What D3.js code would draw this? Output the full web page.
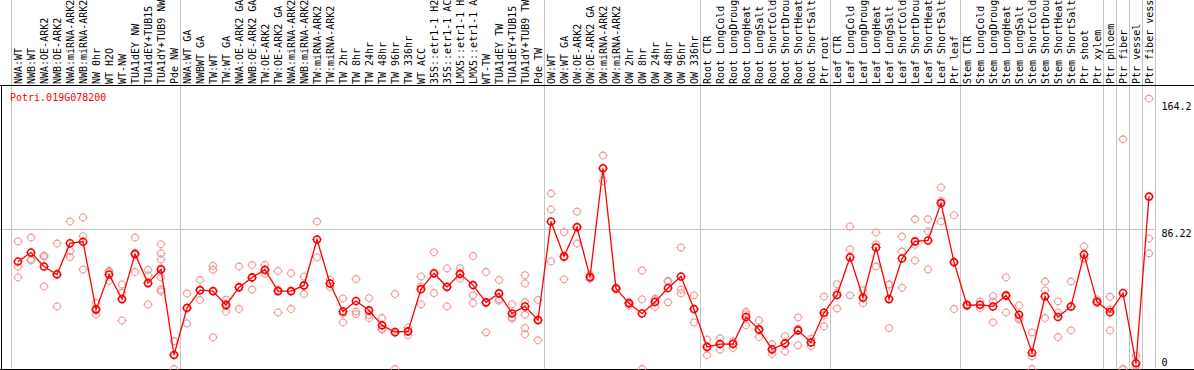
<!DOCTYPE html>
<html>
<head>
<meta charset="utf-8">
<script src="https://cdn.jsdelivr.net/npm/d3@7"></script>
<style>
  html, body { margin: 0; padding: 0; background: #fff; }
  svg { display: block; }
  text { font-family: "DejaVu Sans Mono", monospace; font-size: 10px; }
</style>
</head>
<body>
<div id="chart"></div>
<script>
// sample labels (shown cut at 14 chars as in the source plot)
const labels = [
  'NWA:WT', 'NWB:WT', 'NWA:OE-ARK2', 'NWB:OE-ARK2', 'NWA:miRNA-ARK2', 'NWB:miRNA-ARK2',
  'NW 0hr', 'WT H2O', 'WT-NW', 'TUA1dEY NW', 'TUA1dEY+TUB15', 'TUA1dY+TUB9 NW', 'Pde NW',
  'NWA:WT GA', 'NWBWT GA', 'TW:WT', 'TW:WT GA', 'NWA:OE-ARK2 GA', 'NWB:OE-ARK2 GA',
  'TW:OE-ARK2', 'TW:OE-ARK2 GA', 'NWA:miRNA-ARK2', 'NWB:miRNA-ARK2', 'TW:miRNA-ARK2',
  'TW:miRNA-ARK2', 'TW 2hr', 'TW 8hr', 'TW 24hr', 'TW 48hr', 'TW 96hr', 'TW 336hr',
  'WT ACC', '35S::etr1-1 H2', '35S::etr1-1 AC', 'LMX5::etr1-1 H', 'LMX5::etr1-1 A',
  'WT-TW', 'TUA1dEY TW', 'TUA1dEY+TUB15', 'TUA1dY+TUB9 TW', 'Pde TW',
  'OW:WT', 'OW:WT GA', 'OW:OE-ARK2', 'OW:OE-ARK2 GA', 'OW:miRNA-ARK2', 'OW:miRNA-ARK2',
  'OW 2hr', 'OW 8hr', 'OW 24hr', 'OW 48hr', 'OW 96hr', 'OW 336hr',
  'Root CTR', 'Root LongCold', 'Root LongDroug', 'Root LongHeat', 'Root LongSalt',
  'Root ShortCold', 'Root ShortDrou', 'Root ShortHeat', 'Root ShortSalt', 'Ptr root',
  'Leaf CTR', 'Leaf LongCold', 'Leaf LongDroug', 'Leaf LongHeat', 'Leaf LongSalt',
  'Leaf ShortCold', 'Leaf ShortDrou', 'Leaf ShortHeat', 'Leaf ShortSalt', 'Ptr leaf',
  'Stem CTR', 'Stem LongCold', 'Stem LongDroug', 'Stem LongHeat', 'Stem LongSalt',
  'Stem ShortCold', 'Stem ShortDrou', 'Stem ShortHeat', 'Stem ShortSalt', 'Ptr shoot',
  'Ptr xylem', 'Ptr phloem', 'Ptr fiber', 'Ptr vessel', 'Ptr fiber vess'
];

// index of the last sample in each block (a grey separator follows it)
const groupEnds = [12, 40, 52, 62, 72, 83, 84, 85, 86, 87];

// mean expression per sample
const means = [
  66.0, 71.5, 62.9, 58.0, 77.2, 78.1, 36.6, 58.0, 42.9, 70.5,
  52.7, 61.1, 8.6, 37.4, 48.4, 47.8, 39.2, 50.1, 56.2, 60.9,
  47.8, 47.8, 51.3, 79.5, 52.5, 35.3, 41.7, 36.0, 26.8, 22.7,
  23.1, 49.0, 58.8, 50.3, 58.4, 51.5, 40.9, 46.4, 34.1, 38.4,
  30.0, 90.5, 69.1, 87.0, 56.4, 123.2, 49.4, 40.3, 34.1, 41.1,
  49.7, 56.8, 36.8, 13.5, 15.3, 15.3, 31.9, 24.3, 12.1, 15.7,
  23.7, 16.3, 34.5, 45.4, 68.5, 43.9, 74.6, 42.9, 67.8, 78.3,
  78.9, 101.8, 65.6, 39.2, 39.4, 38.4, 45.2, 33.3, 10.0, 44.5,
  31.9, 38.4, 70.3, 41.3, 34.9, 46.6, 3.5, 105.8
];

// replicate values per sample
const replicates = [
  [78.3, 62.7, 56.2], [80.7, 67.2, 66.6], [69.7, 68.9, 50.7], [77.0, 58.6, 38.4],
  [90.5, 72.5, 68.7], [93.0, 81.5, 61.1], [40.5, 35.8, 33.3], [60.3, 59.5, 54.1],
  [51.9, 46.8, 29.8], [80.7, 71.3, 59.5], [60.9, 57.4, 39.6],
  [76.6, 70.9, 67.2, 61.9, 56.2, 48.8, 47.6],
  [17.0, 8.8, 0], [46.4, 37.8, 28.0], [54.6, 48.4, 42.3], [63.3, 60.9, 19.4],
  [42.5, 40.0, 35.1], [62.9, 50.5, 36.8], [63.8, 56.0, 48.8], [64.0, 60.3, 58.4],
  [60.1, 48.6, 34.7], [58.8, 47.8, 36.8], [56.8, 51.1, 46.0], [90.5, 79.5, 68.5],
  [54.8, 52.5, 50.3], [43.3, 34.1, 28.6], [55.2, 35.3, 33.7], [43.5, 33.1, 31.3],
  [31.3, 24.7, 24.1], [46.0, 22.1, 0], [25.5, 23.1, 20.6], [56.8, 50.7, 39.6],
  [71.7, 58.2, 46.6], [61.7, 50.7, 38.4], [61.9, 58.0, 55.4], [69.3, 45.2, 40.5],
  [59.5, 40.5, 22.5], [54.6, 42.7, 41.9], [39.8, 31.7, 30.9],
  [57.6, 52.5, 41.1, 33.3, 25.1, 21.3],
  [42.3, 30.2, 17.6], [107.7, 97.9, 66.0], [84.0, 68.2, 55.0], [96.6, 87.5, 77.0],
  [57.8, 56.2, 55.2], [131.0, 123.2, 115.4], [50.1, 49.4, 48.8], [41.1, 40.7, 39.0],
  [60.5, 42.7, 0], [43.1, 42.1, 38.0], [54.1, 53.7, 40.9], [74.6, 48.8, 46.4],
  [45.2, 36.6, 28.6], [18.0, 14.1, 8.4], [18.8, 15.3, 11.9], [17.0, 15.9, 12.9],
  [35.1, 33.7, 26.8], [29.8, 23.5, 19.6], [15.3, 11.6, 9.2], [20.2, 16.1, 10.8],
  [31.7, 24.7, 14.5], [18.6, 16.3, 14.1], [44.5, 32.9, 26.2], [52.1, 46.8, 37.2],
  [87.5, 73.4, 45.2], [48.4, 43.1, 40.3], [83.8, 76.6, 62.9], [51.9, 51.7, 25.1],
  [81.3, 72.1, 49.9], [91.9, 76.2, 66.6], [91.9, 84.4, 61.1], [111.4, 103.2, 90.5],
  [94.4, 65.6, 36.8], [39.8, 39.2, 38.6], [41.5, 39.4, 37.4], [44.7, 41.5, 28.6],
  [56.2, 44.5, 34.7], [39.0, 31.3, 30.2], [22.5, 7.8, 0], [53.7, 48.2, 31.3],
  [41.5, 34.7, 19.6], [53.7, 38.0, 23.7], [75.2, 68.0, 67.6], [42.7, 40.7, 40.5],
  [44.3, 36.6, 23.7], [141.0, 0, 0], [8.2, 2.2, 0], [165.9, 80.1, 70.9]
];

const yTicks = [0, 86.22, 164.2];
const gridValue = 86.22;
const geneName = 'Potri.019G078200';

const width = 1194, height = 370;
const plotTop = 85.5, plotBottom = 369.5;

const svg = d3.select('#chart').append('svg')
  .attr('width', width)
  .attr('height', height);

const x = d3.scaleBand()
  .domain(d3.range(labels.length))
  .range([11.5, 11.5 + 13 * labels.length]);
const cx = i => x(i) + x.bandwidth() / 2;
const xEnd = x.range()[1];

const y = d3.scaleLinear()
  .domain([0, gridValue])
  .range([369, 228.5]);

// ===== separators / grid =====
const seps = [x.range()[0]].concat(groupEnds.map(i => x(i) + x.bandwidth()));
svg.selectAll('.sep')
  .data(seps)
  .join('line')
  .attr('class', 'sep')
  .attr('x1', d => d).attr('x2', d => d)
  .attr('y1', 0).attr('y2', plotBottom)
  .attr('stroke', '#c4c4c4')
  .attr('stroke-width', 1);

svg.append('line')
  .attr('x1', 0).attr('x2', xEnd)
  .attr('y1', Math.round(y(gridValue)) + 0.5).attr('y2', Math.round(y(gridValue)) + 0.5)
  .attr('stroke', '#c4c4c4');

// frame
svg.append('line')
  .attr('x1', 0).attr('x2', width)
  .attr('y1', plotTop).attr('y2', plotTop)
  .attr('stroke', '#000');
svg.append('line')
  .attr('x1', 0).attr('x2', width)
  .attr('y1', plotBottom).attr('y2', plotBottom)
  .attr('stroke', '#000');
svg.append('line')
  .attr('x1', 1.5).attr('x2', 1.5)
  .attr('y1', plotTop).attr('y2', plotBottom)
  .attr('stroke', '#000');

// ===== sample labels =====
svg.selectAll('.lab')
  .data(labels)
  .join('text')
  .attr('class', 'lab')
  .attr('transform', (d, i) => `translate(${cx(i)},84) rotate(-90)`)
  .attr('dy', '0.36em')
  .attr('text-anchor', 'start')
  .attr('fill', '#000')
  .text(d => d);

// ===== y labels on the right =====
svg.selectAll('.ylab')
  .data(yTicks)
  .join('text')
  .attr('class', 'ylab')
  .attr('x', xEnd + 6)
  .attr('y', d => Math.min(y(d) + 8.5, 366))
  .attr('fill', '#000')
  .text(d => d);

// gene name
svg.append('text')
  .attr('x', 10)
  .attr('y', 100.5)
  .attr('fill', '#ff0000')
  .text(geneName);

// ===== markers =====
const marker = 'M0,-4.6V-3.6M0,3.6V4.6M-4.6,0H-3.6M3.6,0H4.6';

const reps = replicates.flatMap((arr, i) => arr.map(v => ({ i, v })));
const repG = svg.selectAll('.rep')
  .data(reps)
  .join('g')
  .attr('class', 'rep')
  .attr('transform', d => `translate(${cx(d.i)},${y(d.v)})`);
repG.append('circle')
  .attr('r', 3.4)
  .attr('fill', 'none')
  .attr('stroke', '#f09494')
  .attr('stroke-width', 1.1);
repG.append('path')
  .attr('d', marker)
  .attr('stroke', '#f09494')
  .attr('stroke-width', 0.9);

// mean line
svg.append('path')
  .datum(means)
  .attr('d', d3.line().x((d, i) => cx(i)).y(d => y(d)))
  .attr('fill', 'none')
  .attr('stroke', '#ff0000')
  .attr('stroke-width', 1.3);

const meanG = svg.selectAll('.mean')
  .data(means)
  .join('g')
  .attr('class', 'mean')
  .attr('transform', (d, i) => `translate(${cx(i)},${y(d)})`);
meanG.append('circle')
  .attr('r', 3.5)
  .attr('fill', 'none')
  .attr('stroke', '#ff0000')
  .attr('stroke-width', 1.6);
meanG.append('path')
  .attr('d', marker)
  .attr('stroke', '#ff0000')
  .attr('stroke-width', 1);
</script>
</body>
</html>
